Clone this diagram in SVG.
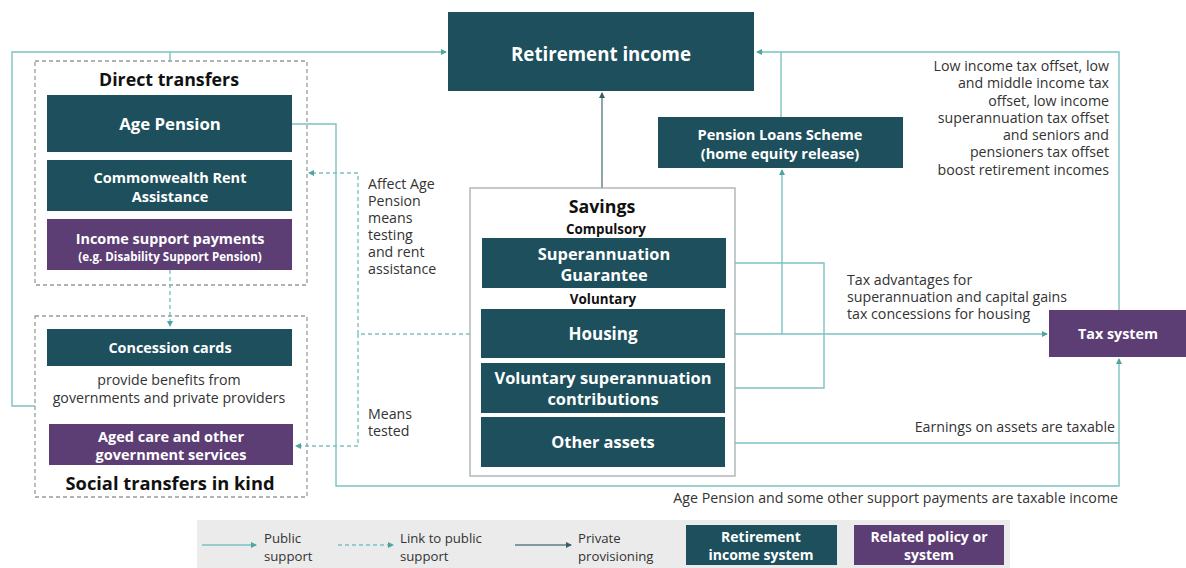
<svg xmlns="http://www.w3.org/2000/svg" width="1186" height="568" viewBox="0 0 1186 568">
<style>
.dk{fill:#1d4f5c}
.pu{fill:#5c3d74}
.grp{fill:none;stroke:#9a9a9a;stroke-width:1.3;stroke-dasharray:4 3}
.wt{font-family:"Open Sans","Liberation Sans",sans-serif;fill:#ffffff;font-weight:bold;text-anchor:middle}
.bk{font-family:"Open Sans","Liberation Sans",sans-serif;fill:#111;font-weight:bold;text-anchor:middle}
.lb{font-family:"Open Sans","Liberation Sans",sans-serif;fill:#333;font-size:14.2px}
.pub{fill:none;stroke:#7cc2c2;stroke-width:1.4;marker-end:url(#ah)}
.pubn{fill:none;stroke:#7cc2c2;stroke-width:1.4}
.lnk{fill:none;stroke:#7cc2c2;stroke-width:1.4;stroke-dasharray:4 3;marker-end:url(#ah)}
.prv{fill:none;stroke:#5d7e86;stroke-width:1.4;marker-end:url(#ahd)}
.lg{font-family:"Open Sans","Liberation Sans",sans-serif;fill:#333;font-size:13.2px}
</style>
<defs>
<marker id="ah" markerWidth="6" markerHeight="6" refX="5" refY="3" orient="auto" markerUnits="userSpaceOnUse"><path d="M0,0 L6,3 L0,6 z" fill="#4fa3a3"/></marker>
<marker id="ahd" markerWidth="6" markerHeight="6" refX="5" refY="3" orient="auto" markerUnits="userSpaceOnUse"><path d="M0,0 L6,3 L0,6 z" fill="#355f69"/></marker>
</defs>
<rect width="1186" height="568" fill="#ffffff"/>

<g id="connectors">
<path class="pubn" d="M35 406 H12 V52 H170"/>
<path class="pub" d="M170 52 H446"/>
<path class="pubn" d="M170 61 V52"/>
<path class="pub" d="M292 124 H336 V486 H1119 V359"/>
<path class="pub" d="M1119 310 V52 H757"/>
<path class="pubn" d="M781 117 V52"/>
<path class="pub" d="M782 334 V170"/>
<path class="pub" d="M725 334 H1047"/>
<path class="pubn" d="M726 263 H824 V388 H725"/>
<path class="pubn" d="M725 443 H1119"/>
<path class="prv" d="M602 188 V93"/>
<path class="lnk" d="M470 334 H358 V173 H309"/>
<path class="lnk" d="M358 334 V446 H296"/>
<path class="lnk" d="M170 270 V326"/>
</g>

<g id="retirement-income">
<rect class="dk" x="448" y="12" width="306" height="79"/>
<text class="wt" x="601" y="61" font-size="18.7">Retirement income</text>
</g>

<g id="direct-transfers">
<rect class="grp" x="35" y="61" width="272" height="224"/>
<text class="bk" x="169" y="86" font-size="17.8">Direct transfers</text>
</g>
<g id="age-pension">
<rect class="dk" x="47" y="95" width="245" height="57"/>
<text class="wt" x="170" y="130" font-size="16.8">Age Pension</text>
</g>
<g id="rent-assistance">
<rect class="dk" x="47" y="160" width="245" height="51"/>
<text class="wt" x="170" y="183" font-size="14.5">Commonwealth Rent</text>
<text class="wt" x="170" y="202" font-size="14.5">Assistance</text>
</g>
<g id="income-support">
<rect class="pu" x="47" y="219" width="245" height="51"/>
<text class="wt" x="170" y="244" font-size="14.4">Income support payments</text>
<text class="wt" x="170" y="261" font-size="11.6">(e.g. Disability Support Pension)</text>
</g>

<g id="social-transfers">
<rect class="grp" x="35" y="316" width="272" height="181"/>
<text class="bk" x="170" y="490" font-size="18.3">Social transfers in kind</text>
</g>
<g id="concession-cards">
<rect class="dk" x="47" y="329" width="245" height="37"/>
<text class="wt" x="170" y="353" font-size="14.4">Concession cards</text>
<text class="lb" x="169" y="385" text-anchor="middle" font-size="14">provide benefits from</text>
<text class="lb" x="169" y="403" text-anchor="middle" font-size="14">governments and private providers</text>
</g>
<g id="aged-care">
<rect class="pu" x="49" y="424" width="244" height="41"/>
<text class="wt" x="171" y="442" font-size="14.5">Aged care and other</text>
<text class="wt" x="171" y="460" font-size="14.5">government services</text>
</g>

<g id="savings">
<rect x="470" y="188" width="265" height="288" fill="#ffffff" stroke="#a5adae" stroke-width="1.3"/>
<text class="bk" x="602" y="213" font-size="17.8">Savings</text>
<text class="bk" x="606" y="234" font-size="13.4">Compulsory</text>
<text class="bk" x="603" y="304" font-size="13.4">Voluntary</text>
</g>
<g id="super-guarantee">
<rect class="dk" x="482" y="238" width="244" height="50"/>
<text class="wt" x="604" y="260" font-size="16.4">Superannuation</text>
<text class="wt" x="604" y="281" font-size="16.4">Guarantee</text>
</g>
<g id="housing">
<rect class="dk" x="481" y="309" width="244" height="49"/>
<text class="wt" x="603" y="340" font-size="17">Housing</text>
</g>
<g id="voluntary-super">
<rect class="dk" x="481" y="363" width="244" height="50"/>
<text class="wt" x="603" y="384" font-size="16.4">Voluntary superannuation</text>
<text class="wt" x="603" y="405" font-size="16.4">contributions</text>
</g>
<g id="other-assets">
<rect class="dk" x="481" y="417" width="244" height="50"/>
<text class="wt" x="603" y="448" font-size="16.4">Other assets</text>
</g>

<g id="pension-loans">
<rect class="dk" x="658" y="117" width="245" height="51"/>
<text class="wt" x="780" y="140" font-size="14.6">Pension Loans Scheme</text>
<text class="wt" x="780" y="159" font-size="14.6">(home equity release)</text>
</g>

<g id="tax-system">
<rect class="pu" x="1049" y="310" width="137" height="47"/>
<text class="wt" x="1118" y="339" font-size="14.3">Tax system</text>
</g>

<g id="labels">
<text class="lb" x="368" y="189">Affect Age</text>
<text class="lb" x="368" y="206">Pension</text>
<text class="lb" x="368" y="223">means</text>
<text class="lb" x="368" y="240">testing</text>
<text class="lb" x="368" y="257">and rent</text>
<text class="lb" x="368" y="274">assistance</text>
<text class="lb" x="368" y="419">Means</text>
<text class="lb" x="368" y="436">tested</text>
<g text-anchor="end">
<text class="lb" x="1109" y="71">Low income tax offset, low</text>
<text class="lb" x="1109" y="88">and middle income tax</text>
<text class="lb" x="1109" y="106">offset, low income</text>
<text class="lb" x="1109" y="123">superannuation tax offset</text>
<text class="lb" x="1109" y="140">and seniors and</text>
<text class="lb" x="1109" y="157">pensioners tax offset</text>
<text class="lb" x="1109" y="175">boost retirement incomes</text>
<text class="lb" x="1115" y="432">Earnings on assets are taxable</text>
<text class="lb" x="1118" y="503">Age Pension and some other support payments are taxable income</text>
</g>
<text class="lb" x="847" y="285">Tax advantages for</text>
<text class="lb" x="847" y="302">superannuation and capital gains</text>
<text class="lb" x="847" y="319">tax concessions for housing</text>
</g>

<g id="legend">
<rect x="197" y="520" width="813" height="48" fill="#ebebeb"/>
<path class="pub" d="M202 545 H256"/>
<text class="lg" x="264" y="543">Public</text>
<text class="lg" x="264" y="561">support</text>
<path class="lnk" d="M338 545 H393"/>
<text class="lg" x="400" y="543">Link to public</text>
<text class="lg" x="400" y="561">support</text>
<path class="prv" d="M515 545 H571"/>
<text class="lg" x="578" y="543">Private</text>
<text class="lg" x="578" y="561">provisioning</text>
<rect class="dk" x="686" y="525" width="151" height="40"/>
<text class="wt" x="761" y="542" font-size="14">Retirement</text>
<text class="wt" x="761" y="560" font-size="14">income system</text>
<rect class="pu" x="854" y="525" width="150" height="40"/>
<text class="wt" x="929" y="542" font-size="14">Related policy or</text>
<text class="wt" x="929" y="560" font-size="14">system</text>
</g>
</svg>
